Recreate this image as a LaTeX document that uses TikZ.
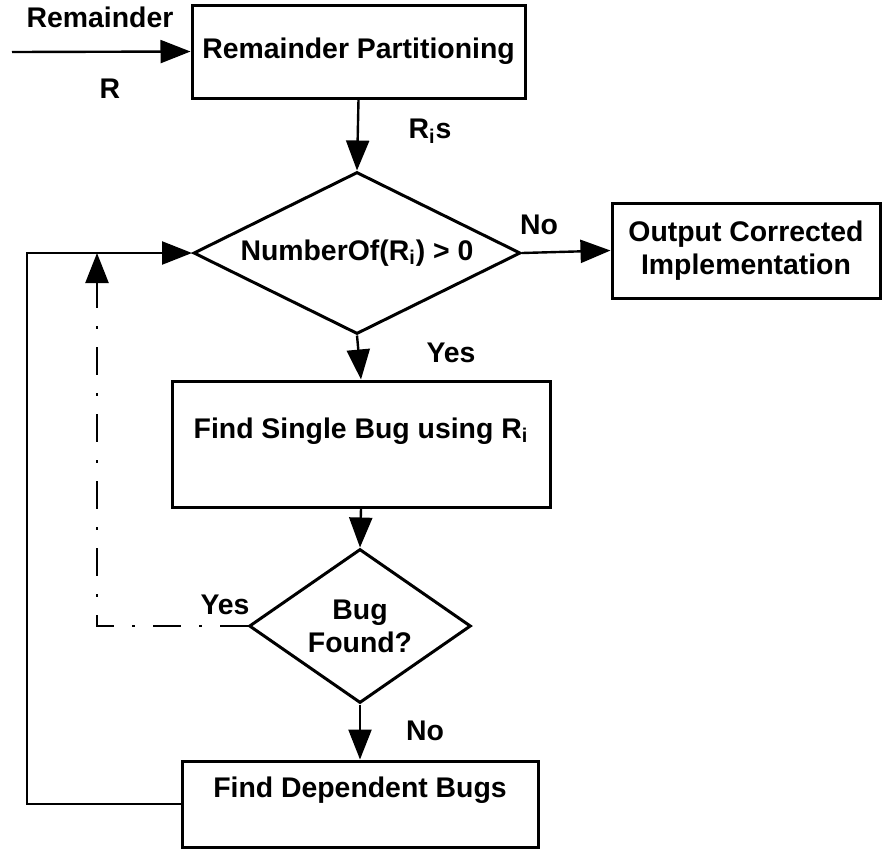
\documentclass[tikz,border=0pt]{standalone}
\usepackage{fontspec}
\setmainfont{Liberation Sans}
\usetikzlibrary{arrows.meta,shapes.geometric,positioning}

\begin{document}
\begin{tikzpicture}[x=0.5pt,y=-0.5pt,
	font=\fontsize{14.2}{16.5}\selectfont\bfseries,
	box/.style={draw,line width=1.5pt,rectangle,align=center,inner sep=2pt},
	dec/.style={draw,line width=1.5pt,diamond,aspect=2,align=center,inner sep=1pt},
	flow/.style={line width=1.2pt,-{Triangle[length=15pt,width=11.5pt]}},
	dashdot/.style={flow,dash pattern=on 14pt off 9pt on 1.5pt off 9pt},
	lbl/.style={inner sep=0pt}]
	\useasboundingbox (0,0) rectangle (884,853);
	\node[box,minimum width=166.5pt,minimum height=46.5pt] (part) at (358.5,51.5) {Remainder Partitioning};
	\node[dec,minimum width=163.5pt,minimum height=81pt] (num) at (357,253) {NumberOf(R\textsubscript{i}) > 0};
	\node[box,minimum width=134pt,minimum height=47.5pt] (out) at (746,250.5) {Output Corrected\\Implementation};
	\node[box,minimum width=189pt,minimum height=63pt,text height=10pt,text depth=16pt] (single) at (361,444) {Find Single Bug using R\textsubscript{i}};
	\node[dec,minimum width=103pt,minimum height=77pt] (found) at (360,626) {Bug\\Found?};
	\node[box,minimum width=178pt,minimum height=43pt,text height=10pt,text depth=17pt] (dep) at (360,804) {Find Dependent Bugs};
	\coordinate (in) at (12,52);
	\coordinate (back) at (27,253);
	\coordinate (join) at (97,253);
	\node[lbl] (rem) at (100,17) {Remainder};
	\node[lbl] (r) at (110,89) {R};
	\node[lbl] (ris) at (430,131) {R\textsubscript{i}s};
	\node[lbl] (no1) at (539,225) {No};
	\node[lbl] (yes1) at (451,353) {Yes};
	\node[lbl] (yes2) at (225,605) {Yes};
	\node[lbl] (no2) at (425,731) {No};
	\draw[flow] (in) -- (part.west);
	\draw[flow] (part.south) -- (num.north);
	\draw[flow] (num.east) -- (out.west);
	\draw[flow] (num.south) -- (single.north);
	\draw[flow] (single.south) -- (found.north);
	\draw[flow] (found.south) -- (dep.north);
	\draw[flow] (dep.west) -| (back) -- (num.west);
	\draw[dashdot] (found.west) -| (join);
\end{tikzpicture}
\end{document}
